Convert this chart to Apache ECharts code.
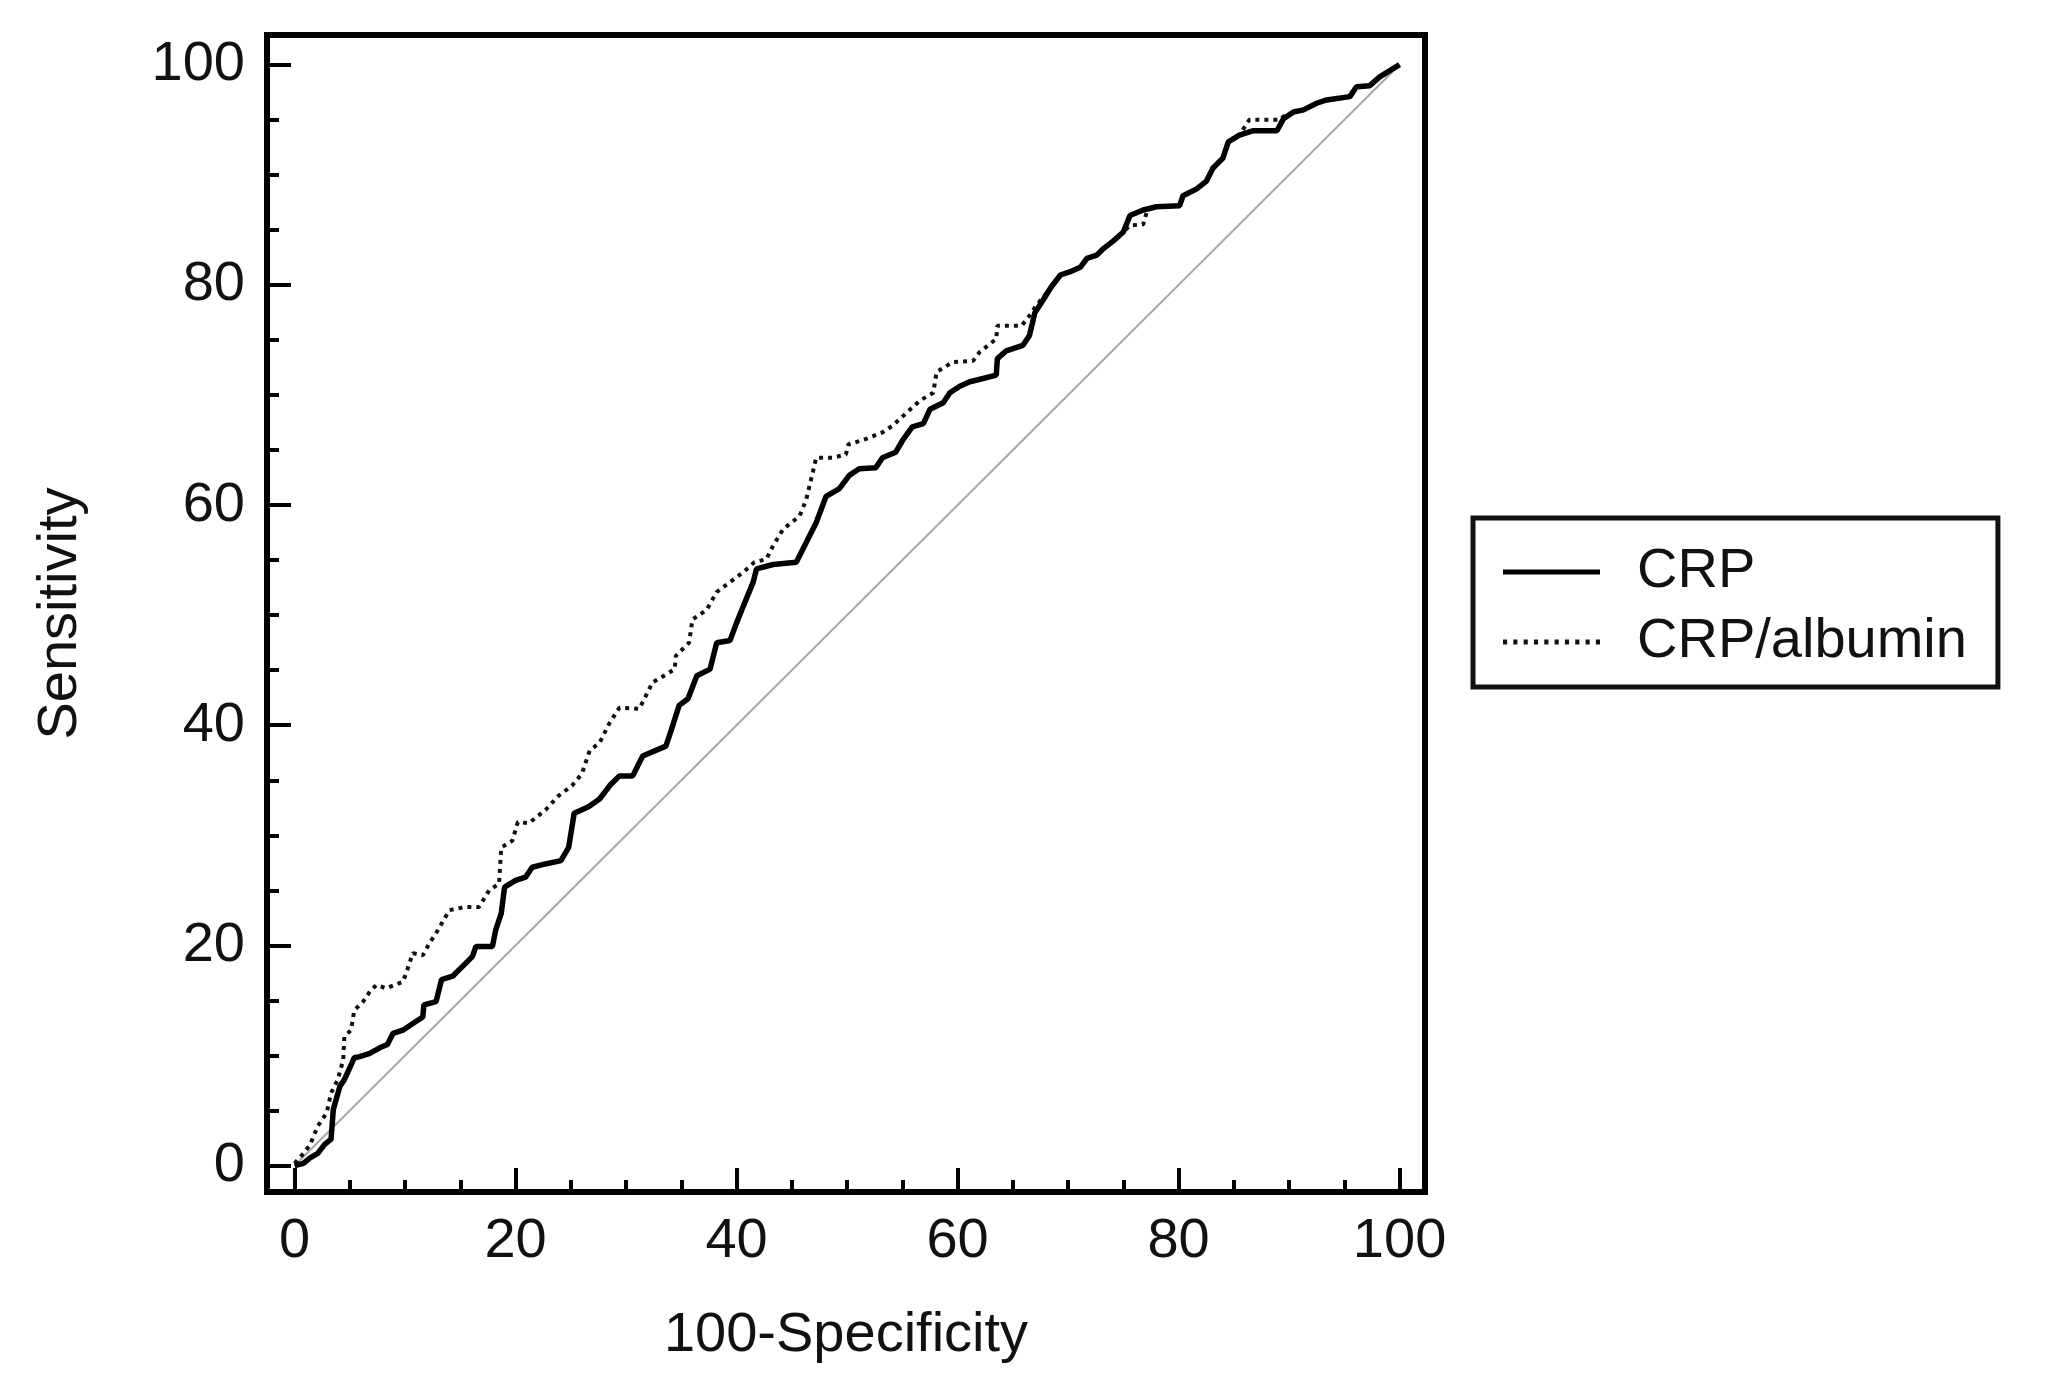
<!DOCTYPE html>
<html><head><meta charset="utf-8">
<script src="https://cdn.jsdelivr.net/npm/echarts@6/dist/echarts.min.js"></script>
<style>html,body{margin:0;padding:0;background:#fff}#c{width:2057px;height:1385px}</style>
</head><body><div id="c"></div>
<script>
// Axis ticks
const majorTicks = [0, 20, 40, 60, 80, 100];
const minorTicks = [5, 10, 15, 25, 30, 35, 45, 50, 55, 65, 70, 75, 85, 90, 95];

// CRP ROC curve (100-Specificity, Sensitivity)
const crpX = [0,0.8,1.4,2.1,2.7,3.3,3.5,4.1,4.5,5.0,5.4,5.9,6.8,7.7,8.4,8.9,9.8,10.7,11.6,11.7,12.8,13.3,14.3,15.2,16.1,16.4,17.9,18.2,18.7,19.0,20.0,20.9,21.5,22.7,24.1,24.8,25.3,26.6,27.6,28.5,29.4,30.6,31.5,33.6,34.1,34.8,35.6,36.4,37.6,38.2,39.4,40.0,40.6,41.5,41.8,43.3,45.4,46.3,47.2,48.1,49.3,50.2,51.1,52.6,53.2,54.4,55.1,55.9,56.9,57.5,58.7,59.3,60.2,61.1,62.3,63.5,63.6,64.4,65.9,66.5,67.0,67.6,68.4,69.3,70.2,71.1,71.7,72.6,73.2,74.1,75.0,75.6,76.8,78.0,80.1,80.4,81.6,82.5,83.1,84.0,84.5,85.5,86.7,88.9,89.5,90.4,91.3,92.5,93.4,95.5,96.1,97.3,98.2,100];
const crpY = [0,0.2,0.7,1.1,1.9,2.4,5.1,7.2,7.8,8.9,9.8,9.9,10.2,10.7,11.0,12.0,12.3,12.9,13.5,14.6,14.9,16.9,17.2,18.1,19.0,19.9,19.9,21.4,22.9,25.3,25.9,26.2,27.1,27.4,27.7,28.9,32.0,32.6,33.3,34.5,35.4,35.4,37.2,38.1,39.6,41.8,42.4,44.5,45.1,47.5,47.7,49.3,50.8,53.0,54.2,54.6,54.8,56.6,58.4,60.8,61.5,62.7,63.3,63.4,64.3,64.8,66.0,67.1,67.4,68.7,69.3,70.2,70.8,71.2,71.5,71.8,73.3,74.0,74.5,75.4,77.5,78.4,79.7,80.9,81.2,81.6,82.4,82.7,83.3,84.0,84.8,86.3,86.8,87.1,87.2,88.1,88.7,89.4,90.6,91.5,93.0,93.6,94.0,94.0,95.1,95.7,95.9,96.5,96.8,97.1,98.0,98.1,98.9,100];

// CRP/albumin ROC curve
const ratioX = [0,0.8,1.4,2.1,2.9,3.3,3.9,4.4,4.5,5.1,5.4,6.2,6.8,7.4,8.3,9.8,10.1,10.7,11.6,12.2,12.8,14.0,15.5,16.7,17.6,18.5,18.7,19.7,20.2,21.2,22.7,23.9,25.1,26.0,26.7,27.6,28.5,29.4,31.2,32.4,33.6,34.4,34.5,35.7,36.0,37.3,38.2,39.4,40.6,41.6,42.7,43.3,44.2,45.7,46.3,46.9,47.2,48.7,49.9,50.1,51.7,53.2,54.1,55.4,56.6,57.8,58.1,59.6,61.4,62.0,63.5,63.6,65.8,66.5,67.1,68.4,69.3,70.2,71.1,71.7,72.6,73.2,74.1,75.0,75.6,76.8,77.2,78.0,80.1,80.4,81.6,82.5,83.1,84.0,84.5,85.5,86.4,89.2,89.5,90.4,91.3,92.5,93.4,95.5,96.1,97.3,98.2,100];
const ratioY = [0.2,1.1,1.9,3.6,4.8,6.6,7.8,9.6,11.7,12.3,14.1,14.9,15.8,16.4,16.1,16.7,17.5,19.3,19.1,20.2,21.1,23.2,23.5,23.5,25.0,25.6,28.9,29.5,31.2,31.1,32.3,33.6,34.5,35.6,37.7,38.4,40.2,41.6,41.5,43.9,44.6,45.1,46.3,47.5,49.6,50.5,52.1,53.0,53.9,54.8,55.1,56.3,57.8,59.0,60.5,63.0,64.3,64.3,64.6,65.5,66.0,66.6,67.2,68.4,69.5,70.2,72.1,73.0,73.1,73.9,75.1,76.3,76.3,77.2,78.1,79.7,80.9,81.2,81.6,82.4,82.7,83.3,84.0,84.8,85.4,85.5,86.9,87.1,87.2,88.1,88.7,89.4,90.6,91.5,93.0,93.6,95.0,95.0,95.3,95.7,95.9,96.5,96.8,97.1,98.0,98.1,98.9,100];

// Reference diagonal
const diagX = [0, 100];
const diagY = [0, 100];

const zip = (xs, ys) => xs.map((x, i) => [x, ys[i]]);
const FONT = 'Liberation Sans, Arial, sans-serif';
const FS = 56;

// legend icons: solid bar and a row of square dots
let dotPath = 'path://';
for (let i = 0; i < 10; i++) dotPath += 'M' + (i * 10) + ',0h4v5h-4z';

const chart = echarts.init(document.getElementById('c'), null, {renderer: 'canvas'});

function axisPair(dim) {
  const base = {
    type: 'value', min: dim === 'x' ? -2.5 : -2.4, max: dim === 'x' ? 102.3 : 102.7,
    splitLine: {show: false}, axisLine: {show: false, onZero: false}
  };
  const main = Object.assign({}, base, {
    axisTick: {show: true, inside: true, length: 24, customValues: majorTicks, lineStyle: {color: '#000', width: 4}},
    axisLabel: {show: true, customValues: majorTicks, margin: dim === 'x' ? 22 : 22, fontSize: FS, color: '#111', fontFamily: FONT},
    name: dim === 'x' ? '100-Specificity' : 'Sensitivity',
    nameLocation: 'middle', nameGap: dim === 'x' ? 116 : 178,
    nameTextStyle: {fontSize: FS, color: '#111', fontFamily: FONT}
  });
  const minor = Object.assign({}, base, {
    axisTick: {show: true, inside: true, length: 12, customValues: minorTicks, lineStyle: {color: '#000', width: 4}},
    axisLabel: {show: false}
  });
  if (dim === 'x') { main.position = 'bottom'; minor.position = 'bottom'; }
  else { main.position = 'left'; minor.position = 'left'; }
  return [main, minor];
}

chart.setOption({
  animation: false,
  backgroundColor: '#fff',
  grid: {left: 267, right: 632, top: 35, bottom: 193, show: true, borderColor: '#000', borderWidth: 6, containLabel: false},
  xAxis: axisPair('x'),
  yAxis: axisPair('y'),
  legend: {
    data: [{name: 'CRP', icon: 'rect'}, {name: 'CRP/albumin', icon: dotPath}],
    orient: 'vertical', left: 1473, top: 518,
    padding: [24, 31, 15, 30],
    itemGap: 10, itemWidth: 97, itemHeight: 5,
    symbolKeepAspect: false,
    borderColor: '#111', borderWidth: 5, borderRadius: 0,
    backgroundColor: '#fff',
    textStyle: {fontSize: FS, lineHeight: 60, color: '#111', fontFamily: FONT, padding: [0, 0, 0, 32]}
  },
  series: [
    {name: 'diag', type: 'line', xAxisIndex: 0, yAxisIndex: 0, data: zip(diagX, diagY), symbol: 'none', silent: true,
      lineStyle: {color: '#a8a8a8', width: 2}, itemStyle: {color: '#a8a8a8'}, z: 1},
    {name: 'CRP/albumin', type: 'line', xAxisIndex: 0, yAxisIndex: 0, data: zip(ratioX, ratioY), symbol: 'none',
      itemStyle: {color: '#111'},
      lineStyle: {color: '#111', width: 4, type: [4, 5]}, z: 2},
    {name: 'CRP', type: 'line', xAxisIndex: 0, yAxisIndex: 0, data: zip(crpX, crpY), symbol: 'none',
      itemStyle: {color: '#000'},
      lineStyle: {color: '#000', width: 5.5}, z: 3}
  ]
});
</script>
</body></html>
